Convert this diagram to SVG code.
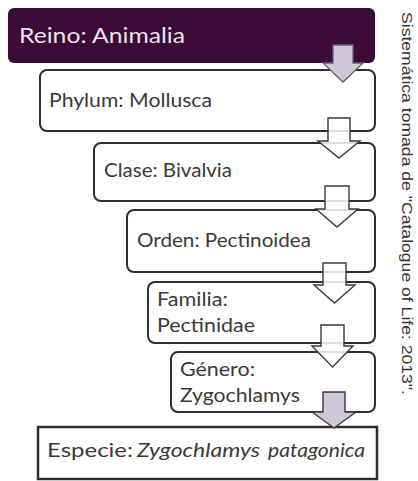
<svg xmlns="http://www.w3.org/2000/svg" width="418" height="481" viewBox="0 0 418 481">
<style>
.box{fill:#ffffff;stroke:#2e2e2e;stroke-width:2}
.t{font-family:Lato,"Liberation Sans",sans-serif;font-size:19.5px;fill:#3a3a3a}
.it{font-style:italic}
.arr{stroke:#3a3a3a;stroke-width:1.4;stroke-linejoin:miter}
.white{fill:#ffffff;fill-opacity:0.85}
.lav{fill:#cfc7da}
</style>
<rect width="418" height="481" fill="#ffffff"/>
<g id="reino">
<rect x="8" y="8" width="367" height="55" rx="6" fill="#3b0a37"/>
<text class="t" x="19" y="43" style="font-size:22px;fill:#ece2ec" textLength="166" lengthAdjust="spacingAndGlyphs">Reino: Animalia</text>
</g>
<g id="phylum">
<rect class="box" x="40" y="70" width="335" height="61" rx="7"/>
<text class="t" x="49" y="107" textLength="163" lengthAdjust="spacingAndGlyphs">Phylum: Mollusca</text>
</g>
<g id="clase">
<rect class="box" x="94" y="143" width="281" height="58" rx="7"/>
<text class="t" x="104" y="177" textLength="128" lengthAdjust="spacingAndGlyphs">Clase: Bivalvia</text>
</g>
<g id="orden">
<rect class="box" x="127" y="210" width="248" height="62" rx="7"/>
<text class="t" x="137" y="247" textLength="174" lengthAdjust="spacingAndGlyphs">Orden: Pectinoidea</text>
</g>
<g id="familia">
<rect class="box" x="148" y="282" width="227" height="61" rx="7"/>
<text class="t" x="157" y="306" textLength="71" lengthAdjust="spacingAndGlyphs">Familia:</text>
<text class="t" x="157" y="332" textLength="98" lengthAdjust="spacingAndGlyphs">Pectinidae</text>
</g>
<g id="genero">
<rect class="box" x="171" y="352" width="204" height="60" rx="7"/>
<text class="t" x="180" y="376" textLength="75" lengthAdjust="spacingAndGlyphs">Género:</text>
<text class="t" x="180" y="402" textLength="120" lengthAdjust="spacingAndGlyphs">Zygochlamys</text>
</g>
<g id="especie">
<rect x="38" y="427" width="339" height="52" fill="#ffffff" stroke="#2e2e2e" stroke-width="2.5"/>
<text class="t" x="47" y="457" textLength="86" lengthAdjust="spacingAndGlyphs">Especie:</text>
<text class="t it" x="137" y="457" textLength="123" lengthAdjust="spacingAndGlyphs">Zygochlamys</text>
<text class="t it" x="268" y="457" textLength="97" lengthAdjust="spacingAndGlyphs">patagonica</text>
</g>
<g id="connectors">
<polygon class="arr lav" style="stroke:#6a6070" points="333,45 353,45 353,63 363,63 343,82 323,63 333,63"/>
<polygon class="arr white" points="328,118 350,118 350,141 360,141 339,158 318,141 328,141"/>
<polygon class="arr white" points="325,186 349,186 349,209 358,209 337,227 316,209 325,209"/>
<polygon class="arr white" points="323,263 346,263 346,285 355,285 334.5,303 314,285 323,285"/>
<polygon class="arr white" points="321,325 344,325 344,346 353,346 332.5,367 312,346 321,346"/>
<polygon class="arr lav" points="323,392 345,392 345,412 356,412 334,428 312,412 323,412"/>
</g>
<g id="nota">
<text transform="translate(402,12) rotate(90)" x="0" y="0" font-family="'Liberation Sans',sans-serif" font-size="14.5" fill="#333333" textLength="383" lengthAdjust="spacingAndGlyphs">Sistemática tomada de "Catalogue of Life: 2013".</text>
</g>
</svg>
